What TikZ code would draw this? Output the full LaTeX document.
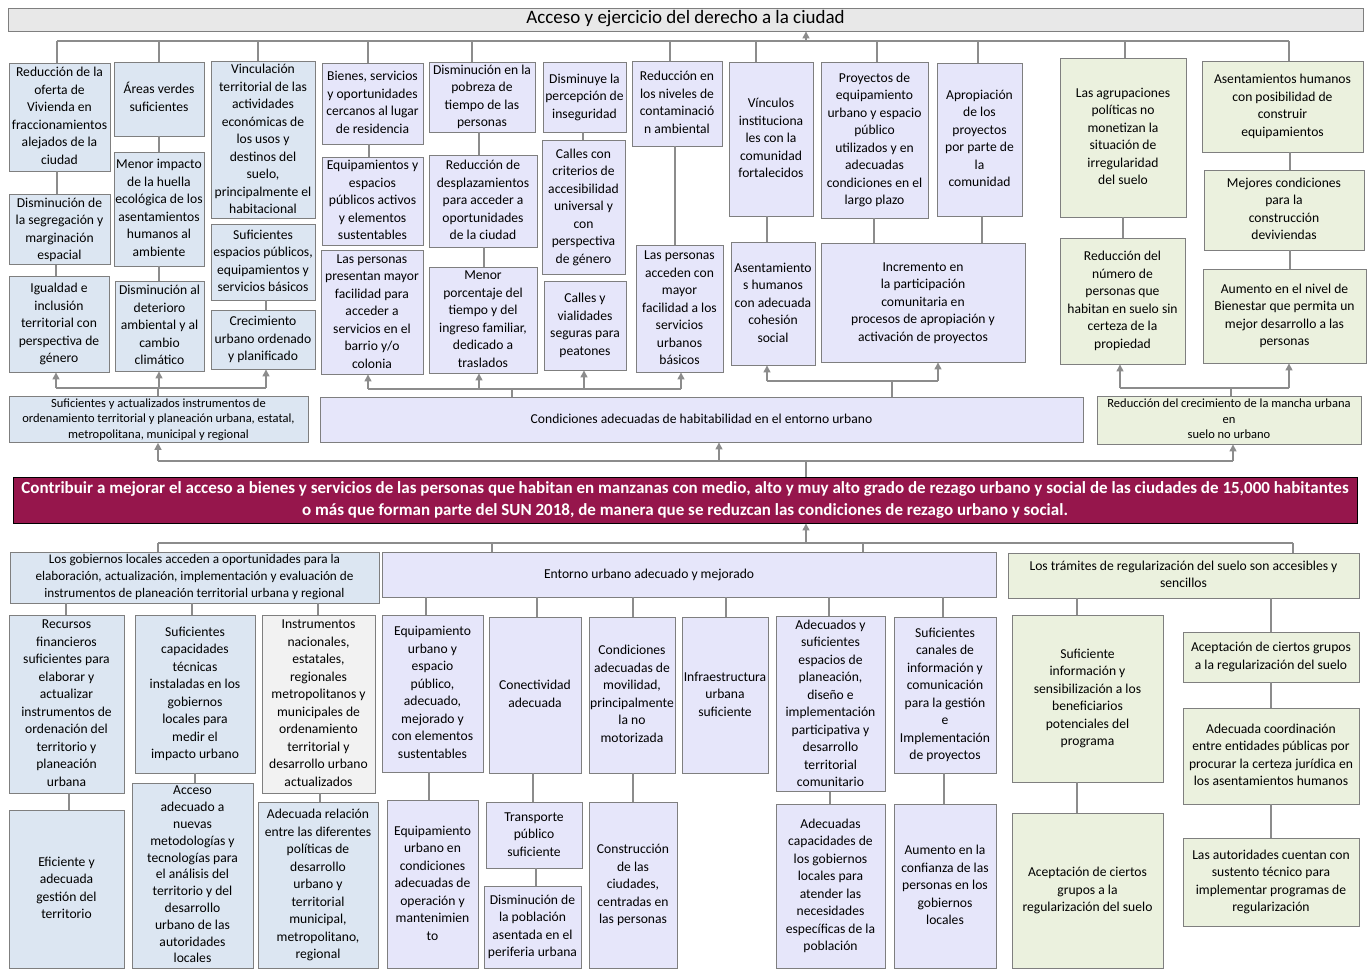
\documentclass[tikz,border=0pt]{standalone}
\usepackage{fontspec}
\setmainfont{Carlito}
\usetikzlibrary{fit,arrows.meta}
\definecolor{boxline}{HTML}{7F7F7F}
\definecolor{linkgray}{HTML}{8C8C8C}
\definecolor{bluefill}{HTML}{DCE6F2}
\definecolor{lavfill}{HTML}{E6E6FA}
\definecolor{grnfill}{HTML}{EBF1DE}
\definecolor{grayfill}{HTML}{F2F2F2}
\definecolor{titlefill}{HTML}{E8E8E8}
\definecolor{purpfill}{HTML}{96164C}
\newcommand{\boxtext}[1]{\raisebox{-\height}[0pt][\dimexpr\height+\depth\relax]{\begin{tabular}{@{}c@{}}#1\end{tabular}}}

\begin{document}
\begin{tikzpicture}[x=1pt, y=-1pt,
    box/.style={draw=boxline, line width=0.9pt, inner sep=0pt, font=\fontsize{13.6}{17.5}\selectfont},
    blu/.style={box, fill=bluefill},
    lav/.style={box, fill=lavfill},
    grn/.style={box, fill=grnfill},
    band/.style={font=\fontsize{12.5}{15.5}\selectfont},
    link/.style={draw=linkgray, line width=1.4pt},
    tip/.style={link, -{Triangle[width=7pt,length=7pt]}}]
    \useasboundingbox (0,0) rectangle (1369,969);

    \node[box, fill=titlefill, fit={(8,8) (1363,31)}, font=\fontsize{19}{22}\selectfont] (title) {\boxtext{Acceso y ejercicio del derecho a la ciudad}};

    \node[blu, fit={(9,63) (110,171)}] (a1) {\boxtext{Reducción de la\\oferta de\\Vivienda en\\fraccionamientos\\alejados de la\\ciudad}};
    \node[blu, fit={(114,62) (204,136)}] (a2) {\boxtext{Áreas verdes\\suficientes}};
    \node[blu, fit={(211,62) (315,218)}] (a3) {\boxtext{Vinculación\\territorial de las\\actividades\\económicas de\\los usos y\\destinos del\\suelo,\\principalmente el\\habitacional}};
    \node[blu, fit={(9,195) (110,264)}] (a4) {\boxtext{Disminución de\\la segregación y\\marginación\\espacial}};
    \node[blu, fit={(9,276) (109,372)}] (a5) {\boxtext{Igualdad e\\inclusión\\territorial con\\perspectiva de\\género}};
    \node[blu, fit={(114,152) (204,266)}] (a6) {\boxtext{Menor impacto\\de la huella\\ecológica de los\\asentamientos\\humanos al\\ambiente}};
    \node[blu, fit={(115,281) (204,371)}] (a7) {\boxtext{Disminución al\\deterioro\\ambiental y al\\cambio\\climático}};
    \node[blu, fit={(211,224) (315,300)}] (a8) {\boxtext{Suficientes\\espacios públicos,\\equipamientos y\\servicios básicos}};
    \node[blu, fit={(211,310) (315,369)}] (a9) {\boxtext{Crecimiento\\urbano ordenado\\y planificado}};

    \node[lav, fit={(322,63) (423,144)}] (b1) {\boxtext{Bienes, servicios\\y oportunidades\\cercanos al lugar\\de residencia}};
    \node[lav, fit={(429,62) (535,132)}] (b2) {\boxtext{Disminución en la\\pobreza de\\tiempo de las\\personas}};
    \node[lav, fit={(543,62) (626,132)}] (b3) {\boxtext{Disminuye la\\percepción de\\inseguridad}};
    \node[lav, fit={(632,61) (722,146)}] (b4) {\boxtext{Reducción en\\los niveles de\\contaminació\\n ambiental}};
    \node[lav, fit={(729,62) (813,216)}] (b5) {\boxtext{Vínculos\\instituciona\\les con la\\comunidad\\fortalecidos}};
    \node[lav, fit={(821,62) (928,218)}] (b6) {\boxtext{Proyectos de\\equipamiento\\urbano y espacio\\público\\utilizados y en\\adecuadas\\condiciones en el\\largo plazo}};
    \node[lav, fit={(937,63) (1022,216)}] (b7) {\boxtext{Apropiación\\de los\\proyectos\\por parte de\\la\\comunidad}};
    \node[lav, fit={(322,157) (423,245)}] (b8) {\boxtext{Equipamientos y\\espacios\\públicos activos\\y elementos\\sustentables}};
    \node[lav, fit={(321,250) (423,374)}] (b9) {\boxtext{Las personas\\presentan mayor\\facilidad para\\acceder a\\servicios en el\\barrio y/o\\colonia}};
    \node[lav, fit={(429,155) (537,247)}] (b10) {\boxtext{Reducción de\\desplazamientos\\para acceder a\\oportunidades\\de la ciudad}};
    \node[lav, fit={(429,267) (537,373)}] (b11) {\boxtext{Menor\\porcentaje del\\tiempo y del\\ingreso familiar,\\dedicado a\\traslados}};
    \node[lav, fit={(542,140) (625,274)}] (b12) {\boxtext{Calles con\\criterios de\\accesibilidad\\universal y\\con\\perspectiva\\de género}};
    \node[lav, fit={(544,281) (626,370)}] (b13) {\boxtext{Calles y\\vialidades\\seguras para\\peatones}};
    \node[lav, fit={(636,245) (723,372)}] (b14) {\boxtext{Las personas\\acceden con\\mayor\\facilidad a los\\servicios\\urbanos\\básicos}};
    \node[lav, fit={(731,242) (815,365)}] (b15) {\boxtext{Asentamiento\\s humanos\\con adecuada\\cohesión\\social}};
    \node[lav, fit={(821,243) (1025,362)}] (b16) {\boxtext{Incremento en\\la participación\\comunitaria en\\procesos de apropiación y\\activación de proyectos}};

    \node[grn, fit={(1060,58) (1186,217)}] (c1) {\boxtext{Las agrupaciones\\políticas no\\monetizan la\\situación de\\irregularidad\\del suelo}};
    \node[grn, fit={(1202,61) (1363,152)}] (c2) {\boxtext{Asentamientos humanos\\con posibilidad de\\construir\\equipamientos}};
    \node[grn, fit={(1204,170) (1364,250)}] (c3) {\boxtext{Mejores condiciones\\para la\\construcción\\deviviendas}};
    \node[grn, fit={(1060,238) (1185,364)}] (c4) {\boxtext{Reducción del\\número de\\personas que\\habitan en suelo sin\\certeza de la\\propiedad}};
    \node[grn, fit={(1203,269) (1366,363)}] (c5) {\boxtext{Aumento en el nivel de\\Bienestar que permita un\\mejor desarrollo a las\\personas}};

    \node[blu, band, fit={(9,397) (308,442)}] (ba) {\boxtext{Suficientes y actualizados instrumentos de\\ordenamiento territorial y planeación urbana, estatal,\\metropolitana, municipal y regional}};
    \node[lav, fit={(320,397) (1083,442)}] (bb) {\boxtext{Condiciones adecuadas de habitabilidad en el entorno urbano}};
    \node[grn, band, fit={(1097,396) (1361,444)}] (bc) {\boxtext{Reducción del crecimiento de la mancha urbana\\en\\suelo no urbano}};

    \node[box, draw=black, fill=purpfill, text=white, fit={(13,477) (1357,523)}, font=\bfseries\fontsize{17}{22}\selectfont] (pp) {\boxtext{Contribuir a mejorar el acceso a bienes y servicios de las personas que habitan en manzanas con medio, alto y muy alto grado de rezago urbano y social de las ciudades de 15,000 habitantes\\o más que forman parte del SUN 2018, de manera que se reduzcan las condiciones de rezago urbano y social.}};

    \node[blu, fit={(10,552) (379,603)}, font=\fontsize{13.2}{17}\selectfont] (la) {\boxtext{Los gobiernos locales acceden a oportunidades para la\\elaboración, actualización, implementación y evaluación de\\instrumentos de planeación territorial urbana y regional}};
    \node[blu, fit={(9,615) (124,793)}] (l1) {\boxtext{Recursos\\financieros\\suficientes para\\elaborar y\\actualizar\\instrumentos de\\ordenación del\\territorio y\\planeación\\urbana}};
    \node[blu, fit={(9,810) (124,968)}] (l2) {\boxtext{Eficiente y\\adecuada\\gestión del\\territorio}};
    \node[blu, fit={(135,615) (255,773)}] (l3) {\boxtext{Suficientes\\capacidades\\técnicas\\instaladas en los\\gobiernos\\locales para\\medir el\\impacto urbano}};
    \node[blu, fit={(132,783) (253,968)}, font=\fontsize{13.6}{16.8}\selectfont] (l4) {\boxtext{Acceso\\adecuado a\\nuevas\\metodologías y\\tecnologías para\\el análisis del\\territorio y del\\desarrollo\\urbano de las\\autoridades\\locales}};
    \node[box, fill=grayfill, fit={(262,615) (375,793)}] (l5) {\boxtext{Instrumentos\\nacionales,\\estatales,\\regionales\\metropolitanos y\\municipales de\\ordenamiento\\territorial y\\desarrollo urbano\\actualizados}};
    \node[blu, fit={(258,802) (378,968)}] (l6) {\boxtext{Adecuada relación\\entre las diferentes\\políticas de\\desarrollo\\urbano y\\territorial\\municipal,\\metropolitano,\\regional}};

    \node[lav, fit={(382,552) (996,597)}] (en) {\boxtext{\makebox[290pt][l]{Entorno urbano adecuado y mejorado}}};
    \node[lav, fit={(382,615) (483,772)}] (e1) {\boxtext{Equipamiento\\urbano y\\espacio\\público,\\adecuado,\\mejorado y\\con elementos\\sustentables}};
    \node[lav, fit={(387,800) (478,968)}] (e2) {\boxtext{Equipamiento\\urbano en\\condiciones\\adecuadas de\\operación y\\mantenimien\\to}};
    \node[lav, fit={(489,617) (581,773)}] (e3) {\boxtext{Conectividad\\adecuada}};
    \node[lav, fit={(486,802) (582,868)}] (e4) {\boxtext{Transporte\\público\\suficiente}};
    \node[lav, fit={(484,886) (581,968)}] (e5) {\boxtext{Disminución de\\la población\\asentada en el\\periferia urbana}};
    \node[lav, fit={(589,617) (675,773)}] (e6) {\boxtext{Condiciones\\adecuadas de\\movilidad,\\principalmente\\la no\\motorizada}};
    \node[lav, fit={(589,802) (677,968)}] (e7) {\boxtext{Construcción\\de las\\ciudades,\\centradas en\\las personas}};
    \node[lav, fit={(682,617) (768,773)}] (e8) {\boxtext{Infraestructura\\urbana\\suficiente}};
    \node[lav, fit={(776,617) (885,791)}] (e9) {\boxtext{Adecuados y\\suficientes\\espacios de\\planeación,\\diseño e\\implementación\\participativa y\\desarrollo\\territorial\\comunitario}};
    \node[lav, fit={(776,804) (885,968)}] (e10) {\boxtext{Adecuadas\\capacidades de\\los gobiernos\\locales para\\atender las\\necesidades\\específicas de la\\población}};
    \node[lav, fit={(894,617) (996,773)}] (e11) {\boxtext{Suficientes\\canales de\\información y\\comunicación\\para la gestión\\e\\Implementación\\de proyectos}};
    \node[lav, fit={(894,804) (996,968)}] (e12) {\boxtext{Aumento en la\\confianza de las\\personas en los\\gobiernos\\locales}};

    \node[grn, fit={(1008,553) (1359,598)}, font=\fontsize{13.6}{17}\selectfont] (gt) {\boxtext{Los trámites de regularización del suelo son accesibles y\\sencillos}};
    \node[grn, fit={(1012,615) (1163,782)}] (g1) {\boxtext{Suficiente\\información y\\sensibilización a los\\beneficiarios\\potenciales del\\programa}};
    \node[grn, fit={(1012,813) (1163,968)}] (g2) {\boxtext{Aceptación de ciertos\\grupos a la\\regularización del suelo}};
    \node[grn, fit={(1183,632) (1359,682)}] (g3) {\boxtext{Aceptación de ciertos grupos\\a la regularización del suelo}};
    \node[grn, fit={(1183,708) (1359,804)}] (g4) {\boxtext{Adecuada coordinación\\entre entidades públicas por\\procurar la certeza jurídica en\\los asentamientos humanos}};
    \node[grn, fit={(1183,838) (1359,926)}] (g5) {\boxtext{Las autoridades cuentan con\\sustento técnico para\\implementar programas de\\regularización}};

    \draw[link] (57,41) -- (1289,41);
    \foreach \nd/\x in {a1/57,a2/159,a3/258,b1/368,b2/472,b4/670,b5/756,b6/877,b7/978,c1/1125,c2/1289}
        \draw[link] (\x,41) -- (\nd.north -| \x,0);
    \draw[tip] (806,41) -- (title.south -| 806,0);

    \foreach \up/\dn/\x in {a1/a4/57,a4/a5/56,a2/a6/159,a6/a7/159,a8/a9/266,b1/b8/369,b2/b10/479,b10/b11/484,b3/b12/583,b4/b14/675,b5/b15/767,b6/b16/874,b7/b16/982,c1/c4/1123,c2/c3/1290,c3/c5/1290}
        \draw[link] (\up.south -| \x,0) -- (\dn.north -| \x,0);

    \draw[link] (ba.north -| 158,0) -- (158,388);
    \draw[link] (56,388) -- (266,388);
    \foreach \nd/\x in {a5/56,a7/159,a9/266}
        \draw[tip] (\x,388) -- (\nd.south -| \x,0);
    \draw[link] (bb.north -| 512,0) -- (512,389);
    \draw[link] (368,389) -- (681,389);
    \foreach \nd/\x in {b9/368,b11/479,b13/584,b14/681}
        \draw[tip] (\x,389) -- (\nd.south -| \x,0);
    \draw[link] (bb.north -| 892,0) -- (892,381);
    \draw[link] (767,381) -- (938,381);
    \foreach \nd/\x in {b15/767,b16/938}
        \draw[tip] (\x,381) -- (\nd.south -| \x,0);
    \draw[link] (bc.north -| 1231,0) -- (1231,388);
    \draw[link] (1120,388) -- (1289,388);
    \foreach \nd/\x in {c4/1120,c5/1289}
        \draw[tip] (\x,388) -- (\nd.south -| \x,0);

    \draw[link] (158,461) -- (1233,461);
    \foreach \nd/\x in {ba/158,bb/719,bc/1233}
        \draw[tip] (\x,461) -- (\nd.south -| \x,0);
    \draw[link] (pp.north -| 806,0) -- (806,461);

    \draw[tip] (806,543) -- (pp.south -| 806,0);
    \draw[link] (158,543) -- (1293,543);
    \foreach \nd/\x in {la/158,en/492,en/863,gt/1293}
        \draw[link] (\x,543) -- (\nd.north -| \x,0);

    \foreach \up/\dn/\x in {la/l1/66,la/l3/192,la/l5/318,en/e1/426,en/e3/537,en/e6/633,en/e8/726,en/e9/829,en/e11/943,gt/g1/1077,gt/g3/1271}
        \draw[link] (\up.south -| \x,0) -- (\dn.north -| \x,0);
    \foreach \up/\dn/\x in {l1/l2/69,l3/l4/195,l5/l6/320,e1/e2/429,e3/e4/533,e4/e5/536,e6/e7/633,e9/e10/830,e11/e12/944,g1/g2/1077,g3/g4/1271,g4/g5/1271}
        \draw[link] (\up.south -| \x,0) -- (\dn.north -| \x,0);
\end{tikzpicture}
\end{document}
